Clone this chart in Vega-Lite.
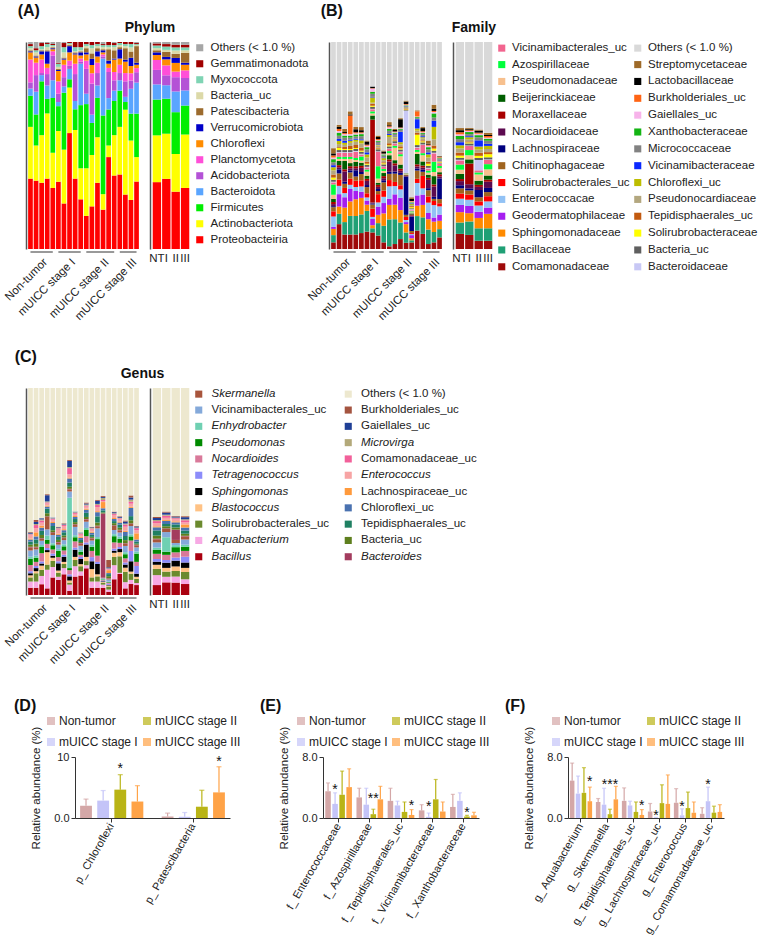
{
"$schema":"https://vega.github.io/schema/vega-lite/v6.json",
"padding":{"left":2,"top":3,"right":0,"bottom":0},
"background":"white",
"config":{"font":"Liberation Sans","view":{"stroke":null},
"axis":{"labelFont":"Liberation Sans","titleFont":"Liberation Sans","labelColor":"#222","titleColor":"#222","grid":false},
"legend":{"labelFont":"Liberation Sans","labelColor":"#222"},
"title":{"font":"Liberation Sans","color":"#111"},
"text":{"font":"Liberation Sans"}},
"datasets":{
"groups":[{"g":"Non-tumor","a":"N1","b":"N5"},{"g":"mUICC stage I","a":"I1","b":"I5"},{"g":"mUICC stage II","a":"II1","b":"II6"},{"g":"mUICC stage III","a":"III1","b":"III4"}],
"A_t":[{"k":"a0","t":"Proteobacteiria","r":0},{"k":"a1","t":"Actinobacteriota","r":1},{"k":"a2","t":"Firmicutes","r":2},{"k":"a3","t":"Bacteroidota","r":3},{"k":"a4","t":"Acidobacteriota","r":4},{"k":"a5","t":"Planctomycetota","r":5},{"k":"a6","t":"Chloroflexi","r":6},{"k":"a7","t":"Verrucomicrobiota","r":7},{"k":"a8","t":"Patescibacteria","r":8},{"k":"a9","t":"Bacteria_uc","r":9},{"k":"a10","t":"Myxococcota","r":10},{"k":"a11","t":"Gemmatimonadota","r":11},{"k":"a12","t":"Others","r":12}],
"A_s":[
{"s":"N1","a0":34,"a1":25,"a2":15,"a3":3.5,"a4":3,"a5":11,"a6":3.5,"a7":0.5,"a8":0.5,"a9":1,"a10":1,"a11":1,"a12":1},
{"s":"N2","a0":33,"a1":17,"a2":15,"a3":11,"a4":8,"a5":6,"a6":2.5,"a7":0.5,"a8":0.5,"a9":1.5,"a10":1,"a11":1,"a12":3},
{"s":"N3","a0":32,"a1":23,"a2":26,"a3":3,"a4":1,"a5":6.5,"a6":2.5,"a7":1.5,"a8":0.5,"a9":0.5,"a10":1.5,"a11":1.5,"a12":0.5},
{"s":"N4","a0":34,"a1":31.5,"a2":7,"a3":6.5,"a4":5.5,"a5":3,"a6":2,"a7":6,"a8":0.5,"a9":1.5,"a10":1.5,"a11":0.5,"a12":0.5},
{"s":"N5","a0":29.5,"a1":17,"a2":26.5,"a3":8.5,"a4":12,"a5":2,"a6":1,"a7":0.5,"a8":0.5,"a9":0.5,"a10":0.5,"a11":0.5,"a12":1},
{"s":"I1","a0":32.5,"a1":24.5,"a2":12,"a3":2,"a4":4,"a5":6,"a6":5,"a7":0.5,"a8":0.5,"a9":1,"a10":1.5,"a11":0.5,"a12":10},
{"s":"I2","a0":22,"a1":26,"a2":27.5,"a3":3,"a4":4.5,"a5":6,"a6":2.5,"a7":0.5,"a8":0.5,"a9":2.5,"a10":2.5,"a11":2,"a12":0.5},
{"s":"I3","a0":56,"a1":22,"a2":4,"a3":5,"a4":1.5,"a5":2.5,"a6":4,"a7":3,"a8":0.5,"a9":0.5,"a10":0.5,"a11":0.5,"a12":0},
{"s":"I4","a0":34,"a1":23.5,"a2":10,"a3":4,"a4":13,"a5":5,"a6":4.5,"a7":0.5,"a8":0.5,"a9":0.5,"a10":2,"a11":2.5,"a12":0},
{"s":"I5","a0":24,"a1":15,"a2":30.5,"a3":20,"a4":1,"a5":1.5,"a6":1.5,"a7":1.5,"a8":0.5,"a9":0.5,"a10":1.5,"a11":2.5,"a12":0},
{"s":"II1","a0":16,"a1":23,"a2":31,"a3":5,"a4":12,"a5":4,"a6":3,"a7":1,"a8":2,"a9":1,"a10":1,"a11":1,"a12":0},
{"s":"II2","a0":20.6,"a1":24.8,"a2":15.5,"a3":4,"a4":15,"a5":5,"a6":4,"a7":3,"a8":2.6,"a9":2.5,"a10":1.5,"a11":1.5,"a12":0},
{"s":"II3","a0":32,"a1":22,"a2":19,"a3":6,"a4":6,"a5":5,"a6":3,"a7":2.5,"a8":1.5,"a9":1,"a10":1,"a11":1,"a12":0},
{"s":"II4","a0":19,"a1":7.5,"a2":38,"a3":27.5,"a4":1,"a5":1,"a6":1,"a7":1,"a8":0.5,"a9":1,"a10":1,"a11":0.5,"a12":1},
{"s":"II5","a0":44.4,"a1":5.6,"a2":17.4,"a3":5.5,"a4":12.6,"a5":2,"a6":2,"a7":1.5,"a8":5.5,"a9":1,"a10":1,"a11":1.5,"a12":0},
{"s":"II6","a0":35.5,"a1":19.5,"a2":16.5,"a3":5,"a4":5,"a5":4,"a6":6,"a7":0.5,"a8":4,"a9":1.5,"a10":1,"a11":1,"a12":0.5},
{"s":"III1","a0":36,"a1":23,"a2":17.5,"a3":5,"a4":3.5,"a5":4,"a6":3,"a7":4.5,"a8":1,"a9":1,"a10":1,"a11":0.5,"a12":0},
{"s":"III2","a0":26.3,"a1":41,"a2":3.7,"a3":2.5,"a4":7.5,"a5":4,"a6":5.5,"a7":1,"a8":5.5,"a9":1,"a10":1,"a11":1,"a12":0},
{"s":"III3","a0":23.7,"a1":28.7,"a2":13,"a3":12,"a4":4,"a5":3.5,"a6":3.5,"a7":4,"a8":3,"a9":2,"a10":1.6,"a11":1,"a12":0},
{"s":"III4","a0":32.6,"a1":11.8,"a2":21,"a3":15,"a4":5,"a5":2,"a6":1.6,"a7":1,"a8":8,"a9":0.5,"a10":0.5,"a11":0.5,"a12":0.5}],
"A_m":[
{"s":"NT","a0":32.3,"a1":22.6,"a2":17.3,"a3":7.3,"a4":7,"a5":4.8,"a6":2.4,"a7":1.3,"a8":1,"a9":1,"a10":1.3,"a11":1,"a12":0.7},
{"s":"I","a0":33.9,"a1":21.8,"a2":16.9,"a3":6.5,"a4":4.8,"a5":4.8,"a6":2.9,"a7":1.2,"a8":2.4,"a9":1,"a10":1.6,"a11":1.2,"a12":1},
{"s":"II","a0":27.7,"a1":18.2,"a2":20.2,"a3":10,"a4":6.9,"a5":2.7,"a6":4.2,"a7":2.4,"a8":2,"a9":1.6,"a10":1.5,"a11":1.3,"a12":1.3},
{"s":"III","a0":29.5,"a1":25.8,"a2":14,"a3":7.3,"a4":6,"a5":3.7,"a6":2.7,"a7":1,"a8":4.8,"a9":1.2,"a10":1.4,"a11":1.3,"a12":1.3}],
"B_t":[{"k":"b0","t":"Comamonadaceae","r":0},{"k":"b1","t":"Bacillaceae","r":1},{"k":"b2","t":"Sphingomonadaceae","r":2},{"k":"b3","t":"Geodermatophilaceae","r":3},{"k":"b4","t":"Enterococcacae","r":4},{"k":"b5","t":"Solirubrobacterales_uc","r":5},{"k":"b6","t":"Chitinophagaceae","r":6},{"k":"b7","t":"Lachnospiraceae","r":7},{"k":"b8","t":"Nocardioidaceae","r":8},{"k":"b9","t":"Moraxellaceae","r":9},{"k":"b10","t":"Beijerinckiaceae","r":10},{"k":"b11","t":"Pseudomonadaceae","r":11},{"k":"b12","t":"Azospirillaceae","r":12},{"k":"b13","t":"Vicinamibacterales_uc","r":13},{"k":"b14","t":"Bacteroidaceae","r":14},{"k":"b15","t":"Bacteria_uc","r":15},{"k":"b16","t":"Solirubrobacteraceae","r":16},{"k":"b17","t":"Tepidisphaerales_uc","r":17},{"k":"b18","t":"Pseudonocardiaceae","r":18},{"k":"b19","t":"Chloroflexi_uc","r":19},{"k":"b20","t":"Vicinamibacteraceae","r":20},{"k":"b21","t":"Micrococcaceae","r":21},{"k":"b22","t":"Xanthobacteraceae","r":22},{"k":"b23","t":"Gaiellales_uc","r":23},{"k":"b24","t":"Burkholderiales_uc","r":24},{"k":"b25","t":"Lactobacillaceae","r":25},{"k":"b26","t":"Streptomycetaceae","r":26},{"k":"b27","t":"Others","r":27}],
"B_s":[
{"s":"N1","b0":3.2,"b1":3.5,"b2":3,"b3":1,"b4":5,"b5":2.5,"b6":2,"b7":0.5,"b8":1,"b9":1,"b10":1.5,"b11":2,"b12":5,"b13":1,"b14":0.3,"b15":1,"b16":1,"b17":1.5,"b18":2,"b19":1.5,"b20":1,"b21":1.4,"b22":1.5,"b23":0.8,"b24":1,"b25":1,"b26":2.5,"b27":51.3},
{"s":"N2","b0":12,"b1":5,"b2":3.5,"b3":6,"b4":4,"b5":3,"b6":3,"b7":2,"b8":1,"b9":1,"b10":2,"b11":1,"b12":1,"b13":2,"b14":0.3,"b15":1,"b16":1,"b17":0.4,"b18":1.5,"b19":1.5,"b20":1,"b21":1.5,"b22":1.5,"b23":0.8,"b24":1,"b25":1,"b26":1,"b27":40},
{"s":"N3","b0":7,"b1":6,"b2":7,"b3":5,"b4":2,"b5":2.5,"b6":2,"b7":1,"b8":5,"b9":1,"b10":4,"b11":1,"b12":1,"b13":2,"b14":0.3,"b15":1,"b16":0.5,"b17":1,"b18":1,"b19":1,"b20":1,"b21":1.5,"b22":1,"b23":0.7,"b24":0.5,"b25":0.5,"b26":1.5,"b27":42},
{"s":"N4","b0":7,"b1":9,"b2":7,"b3":6,"b4":2,"b5":3,"b6":3,"b7":1,"b8":1,"b9":1,"b10":1.5,"b11":2,"b12":1,"b13":2,"b14":0.3,"b15":1,"b16":0.5,"b17":1.5,"b18":1.5,"b19":1,"b20":0.5,"b21":1,"b22":1,"b23":0.7,"b24":9,"b25":0.5,"b26":1.5,"b27":33.5},
{"s":"N5","b0":7,"b1":9,"b2":8,"b3":4,"b4":2,"b5":3,"b6":2,"b7":3,"b8":1,"b9":1,"b10":2,"b11":1,"b12":1,"b13":3,"b14":0.3,"b15":1,"b16":0.5,"b17":1.5,"b18":1.5,"b19":1,"b20":0.5,"b21":1,"b22":1,"b23":0.6,"b24":0.5,"b25":1.5,"b26":1,"b27":41.1},
{"s":"I1","b0":7.7,"b1":9,"b2":8,"b3":3,"b4":2.5,"b5":3,"b6":3,"b7":1,"b8":2,"b9":1,"b10":1.5,"b11":1,"b12":2,"b13":1,"b14":0.3,"b15":1,"b16":0.5,"b17":1.5,"b18":2,"b19":1.5,"b20":0.5,"b21":1.5,"b22":1,"b23":0.4,"b24":0.5,"b25":1,"b26":1.5,"b27":41.1},
{"s":"I2","b0":8.4,"b1":10,"b2":3,"b3":2,"b4":1.5,"b5":2,"b6":3,"b7":1,"b8":2,"b9":1,"b10":1.5,"b11":2,"b12":1,"b13":1,"b14":0.3,"b15":1,"b16":0.5,"b17":1,"b18":2,"b19":1.5,"b20":1,"b21":1.5,"b22":1,"b23":0.7,"b24":0.5,"b25":1.5,"b26":0.5,"b27":47.6},
{"s":"I3","b0":8,"b1":2,"b2":1.5,"b3":3,"b4":1,"b5":4,"b6":2,"b7":0.5,"b8":0.5,"b9":40,"b10":2,"b11":1,"b12":1,"b13":1,"b14":0.2,"b15":1,"b16":0.5,"b17":1,"b18":0.5,"b19":2.5,"b20":0.3,"b21":1.5,"b22":1,"b23":1.5,"b24":0.2,"b25":0.8,"b26":0,"b27":21.5},
{"s":"I4","b0":6.5,"b1":6,"b2":4,"b3":4,"b4":2,"b5":4,"b6":1.5,"b7":1,"b8":1,"b9":1,"b10":1,"b11":2,"b12":6,"b13":7,"b14":0.2,"b15":1,"b16":0.3,"b17":0.5,"b18":1,"b19":0.5,"b20":0.3,"b21":1,"b22":0.5,"b23":0.3,"b24":0.5,"b25":1,"b26":0.7,"b27":45.2},
{"s":"I5","b0":3.2,"b1":8,"b2":6,"b3":5,"b4":3,"b5":3,"b6":4,"b7":1,"b8":1,"b9":1,"b10":1.5,"b11":1,"b12":1,"b13":1,"b14":0.2,"b15":1,"b16":0.5,"b17":0.5,"b18":1,"b19":1,"b20":0.3,"b21":1,"b22":0.5,"b23":0.2,"b24":0.2,"b25":1,"b26":0.5,"b27":52.4},
{"s":"II1","b0":1.3,"b1":13,"b2":7,"b3":3,"b4":6,"b5":3,"b6":3,"b7":1,"b8":5,"b9":1,"b10":2,"b11":1,"b12":1,"b13":1,"b14":0.3,"b15":1,"b16":0.5,"b17":1,"b18":3,"b19":1,"b20":0.5,"b21":1.5,"b22":1,"b23":0.7,"b24":0.5,"b25":0.5,"b26":1.5,"b27":38.7},
{"s":"II2","b0":2.4,"b1":12,"b2":7,"b3":5,"b4":4,"b5":2,"b6":4,"b7":1,"b8":3,"b9":1,"b10":1.5,"b11":6,"b12":1,"b13":1,"b14":0.2,"b15":1,"b16":0.3,"b17":0.5,"b18":1,"b19":0.5,"b20":0.3,"b21":1,"b22":0.5,"b23":0.3,"b24":0.3,"b25":0.7,"b26":0.5,"b27":42},
{"s":"II3","b0":4.8,"b1":8,"b2":6,"b3":6,"b4":4,"b5":2,"b6":5,"b7":1,"b8":1,"b9":1,"b10":2,"b11":4,"b12":1,"b13":1,"b14":0.3,"b15":1,"b16":0.5,"b17":1,"b18":1,"b19":1,"b20":5,"b21":1,"b22":0.5,"b23":0.3,"b24":0.3,"b25":4,"b26":0.5,"b27":36.8},
{"s":"II4","b0":3,"b1":5,"b2":4,"b3":1,"b4":1,"b5":1.5,"b6":1,"b7":18.5,"b8":0.3,"b9":0.3,"b10":0.3,"b11":0.3,"b12":0.3,"b13":0.3,"b14":30,"b15":0.3,"b16":0.3,"b17":0.5,"b18":0.3,"b19":0.3,"b20":0.3,"b21":0.3,"b22":0.3,"b23":0.3,"b24":0.3,"b25":1.2,"b26":0.5,"b27":28.3},
{"s":"II5","b0":3.2,"b1":1,"b2":1,"b3":1.5,"b4":0.5,"b5":0.5,"b6":1,"b7":7,"b8":0.5,"b9":0.5,"b10":0.5,"b11":0.5,"b12":0.5,"b13":0.5,"b14":0.5,"b15":0.5,"b16":0.5,"b17":0.5,"b18":0.5,"b19":0.5,"b20":0.3,"b21":0.3,"b22":0.3,"b23":0.3,"b24":0.3,"b25":1,"b26":0.8,"b27":75},
{"s":"II6","b0":8.9,"b1":7,"b2":5,"b3":5,"b4":6,"b5":2,"b6":4,"b7":1,"b8":1,"b9":1,"b10":5,"b11":1,"b12":1,"b13":1,"b14":0.3,"b15":1,"b16":5,"b17":1,"b18":1,"b19":1,"b20":4.5,"b21":0.5,"b22":0.5,"b23":0.3,"b24":2.5,"b25":0,"b26":0.5,"b27":33},
{"s":"III1","b0":7.3,"b1":8,"b2":6,"b3":5,"b4":3,"b5":6,"b6":2,"b7":1,"b8":1,"b9":1,"b10":2,"b11":3,"b12":1,"b13":4,"b14":0.2,"b15":1,"b16":0.5,"b17":0.5,"b18":1,"b19":0.5,"b20":0.5,"b21":1,"b22":0.5,"b23":0.4,"b24":0.5,"b25":1.5,"b26":0.5,"b27":41.1},
{"s":"III2","b0":2.4,"b1":7,"b2":5,"b3":3,"b4":5,"b5":3,"b6":3,"b7":1,"b8":4,"b9":1,"b10":1.5,"b11":1,"b12":1,"b13":1,"b14":0.3,"b15":1,"b16":1,"b17":1,"b18":2,"b19":1.5,"b20":1,"b21":1.5,"b22":1,"b23":0.7,"b24":0.5,"b25":0.5,"b26":1.5,"b27":47.6},
{"s":"III3","b0":3.2,"b1":5,"b2":5,"b3":2,"b4":6,"b5":2,"b6":1,"b7":1,"b8":5,"b9":1,"b10":4,"b11":2,"b12":5,"b13":4,"b14":0.3,"b15":1,"b16":1,"b17":1.5,"b18":3,"b19":6,"b20":3,"b21":1.5,"b22":2,"b23":0.7,"b24":0.5,"b25":1,"b26":2,"b27":30.3},
{"s":"III4","b0":5.6,"b1":4,"b2":4,"b3":3,"b4":4,"b5":1.5,"b6":2,"b7":10,"b8":1,"b9":1,"b10":1,"b11":2,"b12":1,"b13":1,"b14":0.2,"b15":0.3,"b16":0.3,"b17":0.3,"b18":0.3,"b19":0.3,"b20":0.3,"b21":0.5,"b22":0.3,"b23":0.2,"b24":0.3,"b25":0.3,"b26":0.3,"b27":55}],
"B_m":[
{"s":"NT","b0":7.3,"b1":5.5,"b2":5,"b3":3.5,"b4":3,"b5":2.5,"b6":2.5,"b7":1.5,"b8":2,"b9":1,"b10":2.5,"b11":2,"b12":2.5,"b13":2,"b14":0.3,"b15":1,"b16":1,"b17":1.5,"b18":2,"b19":1.5,"b20":1.5,"b21":1.5,"b22":1.5,"b23":0.8,"b24":1,"b25":1,"b26":1,"b27":41.6},
{"s":"I","b0":6.8,"b1":6.5,"b2":4,"b3":3.5,"b4":3,"b5":2.5,"b6":2,"b7":1,"b8":2,"b9":10,"b10":2,"b11":2,"b12":2.5,"b13":2,"b14":0.2,"b15":1,"b16":0.5,"b17":0.5,"b18":1,"b19":1,"b20":0.5,"b21":1,"b22":1,"b23":0.5,"b24":0.4,"b25":0.5,"b26":0.5,"b27":41.6},
{"s":"II","b0":4,"b1":6,"b2":5,"b3":3,"b4":3,"b5":2,"b6":2,"b7":3.5,"b8":1.5,"b9":1,"b10":2,"b11":3,"b12":1,"b13":1,"b14":5,"b15":1,"b16":1,"b17":1.5,"b18":1.5,"b19":1.5,"b20":3,"b21":1.5,"b22":1,"b23":0.7,"b24":0.5,"b25":1,"b26":0.5,"b27":42.3},
{"s":"III","b0":4,"b1":6,"b2":7,"b3":3,"b4":3,"b5":2.5,"b6":2,"b7":2,"b8":3,"b9":1,"b10":2,"b11":3,"b12":2.5,"b13":2,"b14":0.3,"b15":1,"b16":1.5,"b17":1,"b18":1.5,"b19":1.5,"b20":1,"b21":1.5,"b22":1,"b23":0.5,"b24":0.8,"b25":0.5,"b26":1,"b27":43.9}],
"C_t":[{"k":"c0","t":"Bacillus","r":0},{"k":"c1","t":"Aquabacterium","r":1},{"k":"c2","t":"Solirubrobacterales_uc","r":2},{"k":"c3","t":"Blastococcus","r":3},{"k":"c4","t":"Sphingomonas","r":4},{"k":"c5","t":"Tetragenococcus","r":5},{"k":"c6","t":"Nocardioides","r":6},{"k":"c7","t":"Pseudomonas","r":7},{"k":"c8","t":"Enhydrobacter","r":8},{"k":"c9","t":"Vicinamibacterales_uc","r":9},{"k":"c10","t":"Skermanella","r":10},{"k":"c11","t":"Bacteroides","r":11},{"k":"c12","t":"Bacteria_uc","r":12},{"k":"c13","t":"Tepidisphaerales_uc","r":13},{"k":"c14","t":"Chloroflexi_uc","r":14},{"k":"c15","t":"Lachnospiraceae_uc","r":15},{"k":"c16","t":"Enterococcus","r":16},{"k":"c17","t":"Comamonadaceae_uc","r":17},{"k":"c18","t":"Microvirga","r":18},{"k":"c19","t":"Gaiellales_uc","r":19},{"k":"c20","t":"Burkholderiales_uc","r":20},{"k":"c21","t":"Others","r":21}],
"C_s":[
{"s":"N1","c0":3.5,"c1":3,"c2":2,"c3":1,"c4":1,"c5":1,"c6":3,"c7":3,"c8":1,"c9":3,"c10":1.5,"c11":0.3,"c12":1,"c13":1.5,"c14":1,"c15":0.5,"c16":1.5,"c17":0.5,"c18":0.3,"c19":0.5,"c20":0.3,"c21":69.6},
{"s":"N2","c0":3.5,"c1":3,"c2":4,"c3":1,"c4":1.5,"c5":1,"c6":2,"c7":2,"c8":1,"c9":3,"c10":1,"c11":0.3,"c12":1.5,"c13":2,"c14":1.5,"c15":2,"c16":2,"c17":1.5,"c18":0.5,"c19":1,"c20":1,"c21":63.7},
{"s":"N3","c0":5.2,"c1":4,"c2":3,"c3":2,"c4":1,"c5":1,"c6":4,"c7":3,"c8":1,"c9":2,"c10":1,"c11":0.3,"c12":1.5,"c13":2,"c14":1.5,"c15":1,"c16":1.5,"c17":1,"c18":0.5,"c19":0.6,"c20":0,"c21":62.9},
{"s":"N4","c0":3.2,"c1":9,"c2":2.5,"c3":6,"c4":1,"c5":1,"c6":2,"c7":2,"c8":2,"c9":3,"c10":6,"c11":0.3,"c12":1.5,"c13":2.2,"c14":1,"c15":0.5,"c16":1,"c17":0.5,"c18":0.5,"c19":3,"c20":0.5,"c21":51.3},
{"s":"N5","c0":8.5,"c1":5,"c2":3,"c3":1.5,"c4":1,"c5":1,"c6":2,"c7":2,"c8":1,"c9":4,"c10":1,"c11":0.3,"c12":1,"c13":2,"c14":1.5,"c15":0.5,"c16":1,"c17":0.5,"c18":0.3,"c19":0.3,"c20":0,"c21":62.6},
{"s":"I1","c0":7.3,"c1":1.5,"c2":2,"c3":1,"c4":3.5,"c5":1,"c6":2,"c7":3,"c8":1,"c9":2,"c10":1,"c11":0.3,"c12":1,"c13":1.5,"c14":1,"c15":0.5,"c16":2,"c17":0.5,"c18":0.3,"c19":0.3,"c20":0.3,"c21":67},
{"s":"I2","c0":10,"c1":3,"c2":2,"c3":1,"c4":2.5,"c5":1,"c6":2,"c7":2,"c8":1,"c9":2,"c10":1,"c11":0.3,"c12":1,"c13":1.5,"c14":1,"c15":0.5,"c16":1.5,"c17":0.5,"c18":0.3,"c19":0.3,"c20":0.3,"c21":65.3},
{"s":"I3","c0":2,"c1":3,"c2":1,"c3":1,"c4":2,"c5":1,"c6":2,"c7":1,"c8":34,"c9":3,"c10":1,"c11":0.3,"c12":1,"c13":2,"c14":2,"c15":0.5,"c16":1.5,"c17":3,"c18":0.5,"c19":3,"c20":0.5,"c21":34.7},
{"s":"I4","c0":8.9,"c1":5,"c2":3,"c3":1.5,"c4":3.5,"c5":1,"c6":3,"c7":2,"c8":1,"c9":4,"c10":1,"c11":0.3,"c12":1,"c13":1.5,"c14":1,"c15":0.5,"c16":1,"c17":0.5,"c18":0.3,"c19":0.3,"c20":0,"c21":59.7},
{"s":"I5","c0":9.4,"c1":2,"c2":2.5,"c3":1,"c4":2.5,"c5":1,"c6":1,"c7":1.4,"c8":1,"c9":2,"c10":1,"c11":0.3,"c12":0.5,"c13":1,"c14":1,"c15":0.5,"c16":1,"c17":0.5,"c18":0.3,"c19":0.3,"c20":0,"c21":69.8},
{"s":"II1","c0":12.9,"c1":1.5,"c2":2,"c3":2,"c4":6,"c5":1,"c6":3,"c7":3,"c8":1,"c9":3,"c10":1,"c11":0.3,"c12":1,"c13":2,"c14":1.5,"c15":0.5,"c16":1,"c17":0.5,"c18":0.5,"c19":0.5,"c20":0.5,"c21":55.3},
{"s":"II2","c0":3.5,"c1":3,"c2":2,"c3":4,"c4":3.8,"c5":2,"c6":3,"c7":2,"c8":1,"c9":2,"c10":1,"c11":0.3,"c12":0.5,"c13":1,"c14":1,"c15":0.5,"c16":1,"c17":0.5,"c18":0.3,"c19":0.3,"c20":0.3,"c21":67},
{"s":"II3","c0":3.5,"c1":3,"c2":2.5,"c3":1,"c4":5,"c5":1,"c6":3,"c7":8,"c8":1,"c9":4.2,"c10":1,"c11":0.3,"c12":1.5,"c13":3,"c14":2,"c15":0.5,"c16":2,"c17":1,"c18":0.5,"c19":1.5,"c20":0.5,"c21":54},
{"s":"II4","c0":3.5,"c1":1.5,"c2":1,"c3":0.3,"c4":0.3,"c5":0.3,"c6":0.3,"c7":0.3,"c8":0.3,"c9":0.3,"c10":0.3,"c11":31,"c12":0.5,"c13":1,"c14":1,"c15":3,"c16":0.5,"c17":0.5,"c18":1,"c19":0.5,"c20":0.5,"c21":52.1},
{"s":"II5","c0":1.6,"c1":1,"c2":1.5,"c3":0.5,"c4":0.3,"c5":0.5,"c6":0.5,"c7":0.3,"c8":0.3,"c9":1,"c10":0.3,"c11":0.3,"c12":1,"c13":1,"c14":0.5,"c15":1.4,"c16":0.3,"c17":0.3,"c18":0.3,"c19":0.5,"c20":3.5,"c21":83.1},
{"s":"II6","c0":7.6,"c1":6.8,"c2":4,"c3":2,"c4":1,"c5":1,"c6":3,"c7":3,"c8":1,"c9":2,"c10":2,"c11":0.3,"c12":1,"c13":1,"c14":1,"c15":0.5,"c16":1.5,"c17":0.5,"c18":0.3,"c19":0.5,"c20":0.3,"c21":59.7},
{"s":"III1","c0":10.2,"c1":0.5,"c2":8,"c3":2,"c4":1.5,"c5":1,"c6":2,"c7":2,"c8":1,"c9":2,"c10":1,"c11":0.3,"c12":1,"c13":1.5,"c14":1,"c15":0.5,"c16":1,"c17":0.5,"c18":0.3,"c19":0.5,"c20":0.3,"c21":61.9},
{"s":"III2","c0":3.2,"c1":3,"c2":5,"c3":2,"c4":1.5,"c5":1,"c6":2,"c7":2,"c8":1,"c9":3,"c10":1,"c11":0.3,"c12":1.5,"c13":2,"c14":2,"c15":0.5,"c16":2,"c17":1,"c18":0.5,"c19":1,"c20":0.5,"c21":64},
{"s":"III3","c0":5.3,"c1":2,"c2":3,"c3":1,"c4":5,"c5":5,"c6":5,"c7":2,"c8":1,"c9":4,"c10":1,"c11":0.3,"c12":1.5,"c13":2,"c14":4,"c15":0.5,"c16":1.5,"c17":1,"c18":1,"c19":1,"c20":1,"c21":51.9},
{"s":"III4","c0":4.8,"c1":1,"c2":2,"c3":1,"c4":1.5,"c5":3.7,"c6":2,"c7":4,"c8":1,"c9":2,"c10":1,"c11":0.3,"c12":0.5,"c13":1,"c14":1,"c15":3,"c16":1.5,"c17":1,"c18":0.3,"c19":0.5,"c20":0.3,"c21":66.6}],
"C_m":[
{"s":"NT","c0":4.8,"c1":4.8,"c2":3,"c3":2,"c4":1.5,"c5":1.3,"c6":2.5,"c7":2,"c8":1,"c9":2.5,"c10":1.5,"c11":0.3,"c12":1.5,"c13":2.5,"c14":1.5,"c15":0.5,"c16":1.5,"c17":1,"c18":0.5,"c19":1,"c20":0.5,"c21":62.3},
{"s":"I","c0":6.1,"c1":2.7,"c2":2.5,"c3":1.8,"c4":2.5,"c5":1.3,"c6":2.5,"c7":1.5,"c8":7,"c9":2.5,"c10":1.5,"c11":0.3,"c12":1,"c13":1.1,"c14":1.5,"c15":0.5,"c16":1,"c17":1,"c18":0.5,"c19":1,"c20":0.5,"c21":59.7},
{"s":"II","c0":6,"c1":2.9,"c2":2.7,"c3":2.2,"c4":2.8,"c5":1.5,"c6":2.5,"c7":2.5,"c8":1,"c9":1,"c10":1.5,"c11":5,"c12":1,"c13":1.5,"c14":1,"c15":0.5,"c16":1,"c17":0.5,"c18":0.3,"c19":0.5,"c20":0.3,"c21":61.8},
{"s":"III","c0":5.3,"c1":2.3,"c2":3.5,"c3":2,"c4":2.6,"c5":2.8,"c6":2.8,"c7":2,"c8":1,"c9":2.5,"c10":1.5,"c11":0.3,"c12":1,"c13":1.5,"c14":1.5,"c15":1.5,"c16":1,"c17":1,"c18":0.5,"c19":1,"c20":0.5,"c21":61.9}],
"D":[
{"tx":"p_ Chloroflexi","g":"Non-tumor","m":2.0,"e":3.1},
{"tx":"p_ Chloroflexi","g":"mUICC stage I","m":2.85,"e":4.5},
{"tx":"p_ Chloroflexi","g":"mUICC stage II","m":4.65,"e":7.1,"sig":"*","sy":8.5},
{"tx":"p_ Chloroflexi","g":"mUICC stage III","m":2.7,"e":5.3},
{"tx":"p_ Patescibacteria","g":"Non-tumor","m":0.25,"e":0.8},
{"tx":"p_ Patescibacteria","g":"mUICC stage I","m":0.2,"e":0.9},
{"tx":"p_ Patescibacteria","g":"mUICC stage II","m":1.85,"e":4.55},
{"tx":"p_ Patescibacteria","g":"mUICC stage III","m":4.2,"e":8.4,"sig":"*","sy":9.6}],
"E":[
{"tx":"f_ Enterococcaceae","g":"Non-tumor","m":3.5,"e":4.6},
{"tx":"f_ Enterococcaceae","g":"mUICC stage I","m":1.85,"e":3.3,"sig":"*","sy":4.06},
{"tx":"f_ Enterococcaceae","g":"mUICC stage II","m":3.05,"e":6.15},
{"tx":"f_ Enterococcaceae","g":"mUICC stage III","m":4.05,"e":6.45},
{"tx":"f_ Azospirillaceae","g":"Non-tumor","m":2.7,"e":3.9},
{"tx":"f_ Azospirillaceae","g":"mUICC stage I","m":1.75,"e":3.9},
{"tx":"f_ Azospirillaceae","g":"mUICC stage II","m":0.5,"e":1.15,"sig":"**","sy":2.84},
{"tx":"f_ Azospirillaceae","g":"mUICC stage III","m":2.45,"e":4.15},
{"tx":"f_ Tepidisphaerales_uc","g":"Non-tumor","m":2.25,"e":3.9},
{"tx":"f_ Tepidisphaerales_uc","g":"mUICC stage I","m":1.65,"e":2.2},
{"tx":"f_ Tepidisphaerales_uc","g":"mUICC stage II","m":0.8,"e":2.1},
{"tx":"f_ Tepidisphaerales_uc","g":"mUICC stage III","m":0.4,"e":1.1,"sig":"*","sy":2.0},
{"tx":"f_ Vicinamibacteraceae","g":"Non-tumor","m":1.0,"e":1.75},
{"tx":"f_ Vicinamibacteraceae","g":"mUICC stage I","m":0.15,"e":0.65,"sig":"*","sy":1.88},
{"tx":"f_ Vicinamibacteraceae","g":"mUICC stage II","m":2.45,"e":5.05},
{"tx":"f_ Vicinamibacteraceae","g":"mUICC stage III","m":0.85,"e":2.1},
{"tx":"f_ Xanthobacteraceae","g":"Non-tumor","m":1.45,"e":3.1},
{"tx":"f_ Xanthobacteraceae","g":"mUICC stage I","m":2.25,"e":3.3},
{"tx":"f_ Xanthobacteraceae","g":"mUICC stage II","m":0.2,"e":0.35,"sig":"*","sy":1.0},
{"tx":"f_ Xanthobacteraceae","g":"mUICC stage III","m":0.35,"e":0.75}],
"F":[
{"tx":"g_ Aquabacterium","g":"Non-tumor","m":4.9,"e":7.2},
{"tx":"g_ Aquabacterium","g":"mUICC stage I","m":3.2,"e":5.5},
{"tx":"g_ Aquabacterium","g":"mUICC stage II","m":3.3,"e":6.6},
{"tx":"g_ Aquabacterium","g":"mUICC stage III","m":2.2,"e":4.05,"sig":"*","sy":5.15},
{"tx":"g_ Skermanella","g":"Non-tumor","m":2.1,"e":2.55},
{"tx":"g_ Skermanella","g":"mUICC stage I","m":1.75,"e":3.9},
{"tx":"g_ Skermanella","g":"mUICC stage II","m":0.5,"e":1.15,"sig":"***","sy":4.7},
{"tx":"g_ Skermanella","g":"mUICC stage III","m":2.45,"e":4.15},
{"tx":"g_ Tepidisphaerales_uc","g":"Non-tumor","m":2.25,"e":3.95},
{"tx":"g_ Tepidisphaerales_uc","g":"mUICC stage I","m":1.65,"e":2.2},
{"tx":"g_ Tepidisphaerales_uc","g":"mUICC stage II","m":0.8,"e":2.1},
{"tx":"g_ Tepidisphaerales_uc","g":"mUICC stage III","m":0.4,"e":1.1,"sig":"*","sy":2.0},
{"tx":"g_ Lachnospiraceae_uc","g":"Non-tumor","m":0.85,"e":1.9},
{"tx":"g_ Lachnospiraceae_uc","g":"mUICC stage I","m":0.03,"e":0.08,"sig":"*","sy":0.66},
{"tx":"g_ Lachnospiraceae_uc","g":"mUICC stage II","m":1.95,"e":4.35},
{"tx":"g_ Lachnospiraceae_uc","g":"mUICC stage III","m":1.85,"e":5.65},
{"tx":"g_ Enterococcus","g":"Non-tumor","m":2.0,"e":3.85},
{"tx":"g_ Enterococcus","g":"mUICC stage I","m":0.35,"e":1.2,"sig":"*","sy":1.88},
{"tx":"g_ Enterococcus","g":"mUICC stage II","m":1.3,"e":3.4},
{"tx":"g_ Enterococcus","g":"mUICC stage III","m":0.7,"e":2.1},
{"tx":"g_ Comamonadaceae_uc","g":"Non-tumor","m":0.55,"e":1.35},
{"tx":"g_ Comamonadaceae_uc","g":"mUICC stage I","m":2.2,"e":4.05,"sig":"*","sy":4.7},
{"tx":"g_ Comamonadaceae_uc","g":"mUICC stage II","m":0.7,"e":1.55},
{"tx":"g_ Comamonadaceae_uc","g":"mUICC stage III","m":0.8,"e":1.75}]
},
"vconcat":[
{"vconcat":[
 {"hconcat":[
  {"title":{"text":"(A)","anchor":"start","fontSize":16,"fontWeight":"bold","dx":15,"offset":2},
   "vconcat":[{"title":{"text":"Phylum","anchor":"start","fontSize":14,"fontWeight":"bold","dx":122,"offset":7},
    "spacing":3,
    "hconcat":[
     {"width":115,"height":207,"layer":[
      {"data":{"name":"A_s"},
       "transform":[{"fold":["a0","a1","a2","a3","a4","a5","a6","a7","a8","a9","a10","a11","a12"],"as":["k","v"]},{"lookup":"k","from":{"data":{"name":"A_t"},"key":"k","fields":["t","r"]}}],
       "mark":{"type":"bar"},
       "encoding":{
        "x":{"field":"s","type":"nominal","scale":{"domain":["N1","N2","N3","N4","N5","I1","I2","I3","I4","I5","II1","II2","II3","II4","II5","II6","III1","III2","III3","III4"],"paddingInner":0.16,"paddingOuter":0.38},
             "axis":{"title":null,"domain":false,"ticks":false,"labelAngle":-45,"labelFontSize":11.5,"labelPadding":7,"labelExpr":"datum.value == 'N3' ? 'Non-tumor' : datum.value == 'I3' ? 'mUICC stage I' : datum.value == 'II4' ? 'mUICC stage II' : datum.value == 'III3' ? 'mUICC stage III' : ''"}},
        "y":{"field":"v","type":"quantitative","stack":"zero","scale":{"domain":[0,100],"nice":false},"axis":{"title":null,"labels":false,"ticks":false,"domain":true,"domainColor":"#555","domainWidth":1.5}},
        "color":{"field":"t","type":"nominal","scale":{"domain":["Others","Gemmatimonadota","Myxococcota","Bacteria_uc","Patescibacteria","Verrucomicrobiota","Chloroflexi","Planctomycetota","Acidobacteriota","Bacteroidota","Firmicutes","Actinobacteriota","Proteobacteiria"],"range":["#a6a6a6","#a00000","#7fd4b4","#dcd9a8","#9c6b2e","#0000c8","#ff8c00","#ff4fd8","#b452d6","#5aa5ff","#00ee00","#ffff00","#ff0000"]},
          "legend":{"title":null,"orient":"right","offset":2,"padding":0,"symbolType":"square","symbolSize":50,"symbolStrokeWidth":0,"labelFontSize":11.5,"rowPadding":3,"labelOffset":5,"labelExpr":"datum.label == 'Others' ? 'Others (< 1.0 %)' : datum.label"}},
        "order":{"field":"r","type":"quantitative"}}},
      {"data":{"name":"groups"},"mark":{"type":"rule","yOffset":3,"color":"#555","strokeWidth":1.2},
       "encoding":{"x":{"field":"a","type":"nominal"},"x2":{"field":"b"},"y":{"datum":0,"type":"quantitative"}}}]},
     {"width":42,"height":207,"data":{"name":"A_m"},
      "transform":[{"fold":["a0","a1","a2","a3","a4","a5","a6","a7","a8","a9","a10","a11","a12"],"as":["k","v"]},{"lookup":"k","from":{"data":{"name":"A_t"},"key":"k","fields":["t","r"]}}],
      "mark":{"type":"bar"},
      "encoding":{
       "x":{"field":"s","type":"nominal","scale":{"domain":["NT","I","II","III"],"paddingInner":0.11,"paddingOuter":0.29},"axis":{"title":null,"domain":false,"ticks":false,"labelAngle":0,"labelFontSize":11.5,"labelPadding":3}},
       "y":{"field":"v","type":"quantitative","stack":"zero","scale":{"domain":[0,100],"nice":false},"axis":{"title":null,"labels":false,"ticks":false,"domain":true,"domainColor":"#555","domainWidth":1.5}},
       "color":{"field":"t","type":"nominal","scale":{"domain":["Others","Gemmatimonadota","Myxococcota","Bacteria_uc","Patescibacteria","Verrucomicrobiota","Chloroflexi","Planctomycetota","Acidobacteriota","Bacteroidota","Firmicutes","Actinobacteriota","Proteobacteiria"],"range":["#a6a6a6","#a00000","#7fd4b4","#dcd9a8","#9c6b2e","#0000c8","#ff8c00","#ff4fd8","#b452d6","#5aa5ff","#00ee00","#ffff00","#ff0000"]}},
       "order":{"field":"r","type":"quantitative"}}}
    ]}]},
  {"title":{"text":"(B)","anchor":"start","fontSize":16,"fontWeight":"bold","dx":15,"offset":2},
   "vconcat":[{"title":{"text":"Family","anchor":"start","fontSize":14,"fontWeight":"bold","dx":146,"offset":7},
    "spacing":3,
    "hconcat":[
     {"width":115,"height":207,"layer":[
      {"data":{"name":"B_s"},
       "transform":[{"fold":["b0","b1","b2","b3","b4","b5","b6","b7","b8","b9","b10","b11","b12","b13","b14","b15","b16","b17","b18","b19","b20","b21","b22","b23","b24","b25","b26","b27"],"as":["k","v"]},{"lookup":"k","from":{"data":{"name":"B_t"},"key":"k","fields":["t","r"]}}],
       "mark":{"type":"bar"},
       "encoding":{
        "x":{"field":"s","type":"nominal","scale":{"domain":["N1","N2","N3","N4","N5","I1","I2","I3","I4","I5","II1","II2","II3","II4","II5","II6","III1","III2","III3","III4"],"paddingInner":0.16,"paddingOuter":0.38},
             "axis":{"title":null,"domain":false,"ticks":false,"labelAngle":-45,"labelFontSize":11.5,"labelPadding":7,"labelExpr":"datum.value == 'N3' ? 'Non-tumor' : datum.value == 'I3' ? 'mUICC stage I' : datum.value == 'II4' ? 'mUICC stage II' : datum.value == 'III3' ? 'mUICC stage III' : ''"}},
        "y":{"field":"v","type":"quantitative","stack":"zero","scale":{"domain":[0,100],"nice":false},"axis":{"title":null,"labels":false,"ticks":false,"domain":true,"domainColor":"#555","domainWidth":1.5}},
        "color":{"field":"t","type":"nominal","scale":{"domain":["Vicinamibacterales_uc","Azospirillaceae","Pseudomonadaceae","Beijerinckiaceae","Moraxellaceae","Nocardioidaceae","Lachnospiraceae","Chitinophagaceae","Solirubrobacterales_uc","Enterococcacae","Geodermatophilaceae","Sphingomonadaceae","Bacillaceae","Comamonadaceae","Others","Streptomycetaceae","Lactobacillaceae","Burkholderiales_uc","Gaiellales_uc","Xanthobacteraceae","Micrococcaceae","Vicinamibacteraceae","Chloroflexi_uc","Pseudonocardiaceae","Tepidisphaerales_uc","Solirubrobacteraceae","Bacteria_uc","Bacteroidaceae"],"range":["#f2658f","#00ff3c","#f7c08e","#005e00","#a80000","#5c0a50","#00007e","#a0641e","#ff0000","#92c2f5","#a61ef0","#ff8a00","#1fa075","#9e0a0a","#d9d9d9","#9e6a28","#000000","#ff6414","#f7b3ea","#14b414","#828282","#0a28ff","#bdbd00","#b3a77f","#c25a10","#ffff00","#5f5f5f","#c8c8f5"]},
          "legend":{"title":null,"orient":"right","offset":-1,"padding":0,"columns":2,"columnPadding":2,"symbolType":"square","symbolSize":50,"symbolStrokeWidth":0,"labelFontSize":11.5,"rowPadding":3.85,"labelOffset":4.5,"labelExpr":"datum.label == 'Others' ? 'Others (< 1.0 %)' : datum.label"}},
        "order":{"field":"r","type":"quantitative"}}},
      {"data":{"name":"groups"},"mark":{"type":"rule","yOffset":3,"color":"#555","strokeWidth":1.2},
       "encoding":{"x":{"field":"a","type":"nominal"},"x2":{"field":"b"},"y":{"datum":0,"type":"quantitative"}}}]},
     {"width":42,"height":207,"data":{"name":"B_m"},
      "transform":[{"fold":["b0","b1","b2","b3","b4","b5","b6","b7","b8","b9","b10","b11","b12","b13","b14","b15","b16","b17","b18","b19","b20","b21","b22","b23","b24","b25","b26","b27"],"as":["k","v"]},{"lookup":"k","from":{"data":{"name":"B_t"},"key":"k","fields":["t","r"]}}],
      "mark":{"type":"bar"},
      "encoding":{
       "x":{"field":"s","type":"nominal","scale":{"domain":["NT","I","II","III"],"paddingInner":0.11,"paddingOuter":0.29},"axis":{"title":null,"domain":false,"ticks":false,"labelAngle":0,"labelFontSize":11.5,"labelPadding":3}},
       "y":{"field":"v","type":"quantitative","stack":"zero","scale":{"domain":[0,100],"nice":false},"axis":{"title":null,"labels":false,"ticks":false,"domain":true,"domainColor":"#555","domainWidth":1.5}},
       "color":{"field":"t","type":"nominal","scale":{"domain":["Vicinamibacterales_uc","Azospirillaceae","Pseudomonadaceae","Beijerinckiaceae","Moraxellaceae","Nocardioidaceae","Lachnospiraceae","Chitinophagaceae","Solirubrobacterales_uc","Enterococcacae","Geodermatophilaceae","Sphingomonadaceae","Bacillaceae","Comamonadaceae","Others","Streptomycetaceae","Lactobacillaceae","Burkholderiales_uc","Gaiellales_uc","Xanthobacteraceae","Micrococcaceae","Vicinamibacteraceae","Chloroflexi_uc","Pseudonocardiaceae","Tepidisphaerales_uc","Solirubrobacteraceae","Bacteria_uc","Bacteroidaceae"],"range":["#f2658f","#00ff3c","#f7c08e","#005e00","#a80000","#5c0a50","#00007e","#a0641e","#ff0000","#92c2f5","#a61ef0","#ff8a00","#1fa075","#9e0a0a","#d9d9d9","#9e6a28","#000000","#ff6414","#f7b3ea","#14b414","#828282","#0a28ff","#bdbd00","#b3a77f","#c25a10","#ffff00","#5f5f5f","#c8c8f5"]}},
       "order":{"field":"r","type":"quantitative"}}}
    ]}]}
 ],"spacing":-4,"resolve":{"scale":{"color":"independent"}}},
 {"title":{"text":"(C)","anchor":"start","fontSize":16,"fontWeight":"bold","dx":12,"offset":2},
  "vconcat":[{"title":{"text":"Genus","anchor":"start","fontSize":14,"fontWeight":"bold","dx":118,"offset":7},
   "spacing":3,
   "hconcat":[
    {"width":115,"height":207,"layer":[
     {"data":{"name":"C_s"},
      "transform":[{"fold":["c0","c1","c2","c3","c4","c5","c6","c7","c8","c9","c10","c11","c12","c13","c14","c15","c16","c17","c18","c19","c20","c21"],"as":["k","v"]},{"lookup":"k","from":{"data":{"name":"C_t"},"key":"k","fields":["t","r"]}}],
      "mark":{"type":"bar"},
      "encoding":{
       "x":{"field":"s","type":"nominal","scale":{"domain":["N1","N2","N3","N4","N5","I1","I2","I3","I4","I5","II1","II2","II3","II4","II5","II6","III1","III2","III3","III4"],"paddingInner":0.16,"paddingOuter":0.38},
            "axis":{"title":null,"domain":false,"ticks":false,"labelAngle":-45,"labelFontSize":11.5,"labelPadding":7,"labelExpr":"datum.value == 'N3' ? 'Non-tumor' : datum.value == 'I3' ? 'mUICC stage I' : datum.value == 'II4' ? 'mUICC stage II' : datum.value == 'III3' ? 'mUICC stage III' : ''"}},
       "y":{"field":"v","type":"quantitative","stack":"zero","scale":{"domain":[0,100],"nice":false},"axis":{"title":null,"labels":false,"ticks":false,"domain":true,"domainColor":"#555","domainWidth":1.5}},
       "color":{"field":"t","type":"nominal","scale":{"domain":["Skermanella","Vicinamibacterales_uc","Enhydrobacter","Pseudomonas","Nocardioides","Tetragenococcus","Sphingomonas","Blastococcus","Solirubrobacterales_uc","Aquabacterium","Bacillus","Others","Burkholderiales_uc","Gaiellales_uc","Microvirga","Comamonadaceae_uc","Enterococcus","Lachnospiraceae_uc","Chloroflexi_uc","Tepidisphaerales_uc","Bacteria_uc","Bacteroides"],"range":["#a8553c","#84a9da","#6fd0b2","#008a00","#d9799a","#8c8cfa","#000000","#ffc285","#6b8a2e","#f7a9e4","#aa0010","#ede8cf","#a45440","#1f3f96","#b3a97a","#f2609a","#f7a4a4","#ff9a3c","#4a72b0","#1f8062","#5e7f1e","#a33c5e"]},
         "legend":{"title":null,"orient":"right","offset":1,"padding":0,"columns":2,"columnPadding":12.5,"symbolType":"square","symbolSize":50,"symbolStrokeWidth":0,"labelFontSize":11.5,"rowPadding":3.3,"labelOffset":7,"labelExpr":"datum.label == 'Others' ? 'Others (< 1.0 %)' : datum.label",
          "encode":{"labels":{"update":{"fontStyle":{"signal":"indexof(['Skermanella','Enhydrobacter','Pseudomonas','Nocardioides','Tetragenococcus','Sphingomonas','Blastococcus','Aquabacterium','Bacillus','Microvirga','Enterococcus','Bacteroides'], datum.value) >= 0 ? 'italic' : 'normal'"}}}}}},
       "order":{"field":"r","type":"quantitative"}}},
     {"data":{"name":"groups"},"mark":{"type":"rule","yOffset":3,"color":"#555","strokeWidth":1.2},
      "encoding":{"x":{"field":"a","type":"nominal"},"x2":{"field":"b"},"y":{"datum":0,"type":"quantitative"}}}]},
    {"width":42,"height":207,"data":{"name":"C_m"},
     "transform":[{"fold":["c0","c1","c2","c3","c4","c5","c6","c7","c8","c9","c10","c11","c12","c13","c14","c15","c16","c17","c18","c19","c20","c21"],"as":["k","v"]},{"lookup":"k","from":{"data":{"name":"C_t"},"key":"k","fields":["t","r"]}}],
     "mark":{"type":"bar"},
     "encoding":{
      "x":{"field":"s","type":"nominal","scale":{"domain":["NT","I","II","III"],"paddingInner":0.11,"paddingOuter":0.29},"axis":{"title":null,"domain":false,"ticks":false,"labelAngle":0,"labelFontSize":11.5,"labelPadding":3}},
      "y":{"field":"v","type":"quantitative","stack":"zero","scale":{"domain":[0,100],"nice":false},"axis":{"title":null,"labels":false,"ticks":false,"domain":true,"domainColor":"#555","domainWidth":1.5}},
      "color":{"field":"t","type":"nominal","scale":{"domain":["Skermanella","Vicinamibacterales_uc","Enhydrobacter","Pseudomonas","Nocardioides","Tetragenococcus","Sphingomonas","Blastococcus","Solirubrobacterales_uc","Aquabacterium","Bacillus","Others","Burkholderiales_uc","Gaiellales_uc","Microvirga","Comamonadaceae_uc","Enterococcus","Lachnospiraceae_uc","Chloroflexi_uc","Tepidisphaerales_uc","Bacteria_uc","Bacteroides"],"range":["#a8553c","#84a9da","#6fd0b2","#008a00","#d9799a","#8c8cfa","#000000","#ffc285","#6b8a2e","#f7a9e4","#aa0010","#ede8cf","#a45440","#1f3f96","#b3a97a","#f2609a","#f7a4a4","#ff9a3c","#4a72b0","#1f8062","#5e7f1e","#a33c5e"]}},
      "order":{"field":"r","type":"quantitative"}}}
   ]}]}
],"spacing":27,"resolve":{"scale":{"color":"independent"}}},
{"hconcat":[
 {"width":1,"height":1,"data":{"values":[]},"mark":{"type":"point"}},
 {"hconcat":[
  {"hconcat":[
  {"title":{"text":"(D)","anchor":"start","frame":"group","fontSize":16,"fontWeight":"bold","dx":-61,"offset":1},
   "width":155,"height":61,"data":{"name":"D"},
   "encoding":{
    "x":{"field":"tx","type":"nominal","sort":null,"scale":{"paddingInner":0.16,"paddingOuter":0.03},"axis":{"title":null,"labelAngle":-60,"labelFontSize":11,"tickSize":4,"labelPadding":2,"domainColor":"#333","tickColor":"#333"}},
    "xOffset":{"field":"g","type":"nominal","scale":{"domain":["Non-tumor","mUICC stage I","mUICC stage II","mUICC stage III"],"paddingInner":0.31,"paddingOuter":0.155}}},
   "layer":[
    {"mark":{"type":"bar"},"encoding":{
      "y":{"field":"m","type":"quantitative","scale":{"domain":[0,10],"nice":false},"axis":{"title":"Relative abundance (%)","titleFontSize":11.5,"titleFontWeight":"normal","labelFontSize":11,"values":[0,2.5,5,7.5,10],"labelExpr":"datum.value == 10 ? '10' : format(datum.value, '.1f')","tickSize":4,"titlePadding":12,"domainColor":"#333","tickColor":"#333"}},
      "color":{"field":"g","type":"nominal","scale":{"domain":["Non-tumor","mUICC stage I","mUICC stage II","mUICC stage III"],"range":["#d4a7a7","#c4c4f8","#b9b416","#ffa347"]},
        "legend":{"title":null,"orient":"none","legendX":-30,"legendY":-42,"columns":2,"columnPadding":3,"symbolType":"square","symbolSize":64,"symbolStrokeWidth":0,"labelFontSize":12,"rowPadding":9,"labelOffset":2,"padding":0}}}},
    {"mark":{"type":"rule","strokeWidth":1.2},"encoding":{"y":{"field":"m","type":"quantitative"},"y2":{"field":"e"},"color":{"field":"g","type":"nominal"}}},
    {"mark":{"type":"tick","thickness":1.2,"size":5},"encoding":{"y":{"field":"e","type":"quantitative"},"color":{"field":"g","type":"nominal"}}},
    {"transform":[{"filter":"datum.sig"}],"mark":{"type":"text","fontSize":14,"baseline":"middle","dy":3},"encoding":{"y":{"field":"sy","type":"quantitative"},"text":{"field":"sig"},"color":{"value":"#111"}}}
   ]},
  {"title":{"text":"(E)","anchor":"start","frame":"group","fontSize":16,"fontWeight":"bold","dx":-63,"offset":1},
   "width":156,"height":61,"data":{"name":"E"},
   "encoding":{
    "x":{"field":"tx","type":"nominal","sort":null,"scale":{"paddingInner":0.1,"paddingOuter":0.05},"axis":{"title":null,"labelAngle":-60,"labelFontSize":11,"tickSize":4,"labelPadding":2,"domainColor":"#333","tickColor":"#333"}},
    "xOffset":{"field":"g","type":"nominal","scale":{"domain":["Non-tumor","mUICC stage I","mUICC stage II","mUICC stage III"],"paddingInner":0.21,"paddingOuter":0.1}}},
   "layer":[
    {"mark":{"type":"bar"},"encoding":{
      "y":{"field":"m","type":"quantitative","scale":{"domain":[0,8],"nice":false},"axis":{"title":"Relative abundance (%)","titleFontSize":11.5,"titleFontWeight":"normal","labelFontSize":11,"values":[0,2,4,6,8],"format":".1f","tickSize":4,"titlePadding":12,"domainColor":"#333","tickColor":"#333"}},
      "color":{"field":"g","type":"nominal","scale":{"domain":["Non-tumor","mUICC stage I","mUICC stage II","mUICC stage III"],"range":["#d4a7a7","#c4c4f8","#b9b416","#ffa347"]},
        "legend":{"title":null,"orient":"none","legendX":-28,"legendY":-42,"columns":2,"columnPadding":2,"symbolType":"square","symbolSize":64,"symbolStrokeWidth":0,"labelFontSize":12,"rowPadding":9,"labelOffset":2,"padding":0}}}},
    {"mark":{"type":"rule","strokeWidth":1.2},"encoding":{"y":{"field":"m","type":"quantitative"},"y2":{"field":"e"},"color":{"field":"g","type":"nominal"}}},
    {"mark":{"type":"tick","thickness":1.2,"size":4},"encoding":{"y":{"field":"e","type":"quantitative"},"color":{"field":"g","type":"nominal"}}},
    {"transform":[{"filter":"datum.sig"}],"mark":{"type":"text","fontSize":14,"baseline":"middle","dy":3},"encoding":{"y":{"field":"sy","type":"quantitative"},"text":{"field":"sig"},"color":{"value":"#111"}}}
   ]}
  ],"spacing":19,"resolve":{"scale":{"color":"independent","xOffset":"independent"}}},
  {"title":{"text":"(F)","anchor":"start","frame":"group","fontSize":16,"fontWeight":"bold","dx":-63,"offset":1},
   "width":156,"height":61,"data":{"name":"F"},
   "encoding":{
    "x":{"field":"tx","type":"nominal","sort":null,"scale":{"paddingInner":0.1,"paddingOuter":0.05},"axis":{"title":null,"labelAngle":-60,"labelFontSize":11,"tickSize":4,"labelPadding":2,"domainColor":"#333","tickColor":"#333"}},
    "xOffset":{"field":"g","type":"nominal","scale":{"domain":["Non-tumor","mUICC stage I","mUICC stage II","mUICC stage III"],"paddingInner":0.23,"paddingOuter":0.1}}},
   "layer":[
    {"mark":{"type":"bar"},"encoding":{
      "y":{"field":"m","type":"quantitative","scale":{"domain":[0,8],"nice":false},"axis":{"title":"Relative abundance (%)","titleFontSize":11.5,"titleFontWeight":"normal","labelFontSize":11,"values":[0,2,4,6,8],"format":".1f","tickSize":4,"titlePadding":12,"domainColor":"#333","tickColor":"#333"}},
      "color":{"field":"g","type":"nominal","scale":{"domain":["Non-tumor","mUICC stage I","mUICC stage II","mUICC stage III"],"range":["#d4a7a7","#c4c4f8","#b9b416","#ffa347"]},
        "legend":{"title":null,"orient":"none","legendX":-18,"legendY":-42,"columns":2,"columnPadding":2,"symbolType":"square","symbolSize":64,"symbolStrokeWidth":0,"labelFontSize":12,"rowPadding":9,"labelOffset":2,"padding":0}}}},
    {"mark":{"type":"rule","strokeWidth":1.2},"encoding":{"y":{"field":"m","type":"quantitative"},"y2":{"field":"e"},"color":{"field":"g","type":"nominal"}}},
    {"mark":{"type":"tick","thickness":1.2,"size":4},"encoding":{"y":{"field":"e","type":"quantitative"},"color":{"field":"g","type":"nominal"}}},
    {"transform":[{"filter":"datum.sig"}],"mark":{"type":"text","fontSize":14,"baseline":"middle","dy":3},"encoding":{"y":{"field":"sy","type":"quantitative"},"text":{"field":"sig"},"color":{"value":"#111"}}}
   ]}
 ],"spacing":15,"resolve":{"scale":{"color":"independent","xOffset":"independent"}}}
],"spacing":-13,"resolve":{"scale":{"color":"independent","xOffset":"independent"}}}
],
"spacing":30,
"resolve":{"scale":{"color":"independent","xOffset":"independent"}}
}
